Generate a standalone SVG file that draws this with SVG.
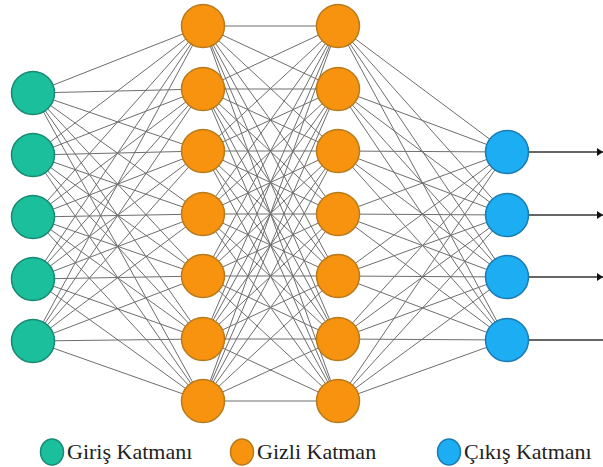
<svg xmlns="http://www.w3.org/2000/svg" width="603" height="467" viewBox="0 0 603 467">
<defs>
<marker id="ah" markerWidth="6" markerHeight="8" refX="6" refY="4" orient="auto" markerUnits="userSpaceOnUse">
<path d="M0,0L6,4L0,8Z" fill="#111"/>
</marker>
</defs>
<rect width="603" height="467" fill="#fff"/>
<g id="connectors" fill="none">
<g stroke="#6e6e6e" stroke-width="1">
<path d="M33,93L203,26M33,93L203,89M33,93L203,151M33,93L203,214M33,93L203,276M33,93L203,339M33,93L203,401"/>
<path d="M33,155L203,26M33,155L203,89M33,155L203,151M33,155L203,214M33,155L203,276M33,155L203,339M33,155L203,401"/>
<path d="M33,217L203,26M33,217L203,89M33,217L203,151M33,217L203,214M33,217L203,276M33,217L203,339M33,217L203,401"/>
<path d="M33,279L203,26M33,279L203,89M33,279L203,151M33,279L203,214M33,279L203,276M33,279L203,339M33,279L203,401"/>
<path d="M33,341L203,26M33,341L203,89M33,341L203,151M33,341L203,214M33,341L203,276M33,341L203,339M33,341L203,401"/>
<path d="M203,26L338,26M203,26L338,89M203,26L338,151M203,26L338,214M203,26L338,276M203,26L338,339M203,26L338,401"/>
<path d="M203,89L338,26M203,89L338,89M203,89L338,151M203,89L338,214M203,89L338,276M203,89L338,339M203,89L338,401"/>
<path d="M203,151L338,26M203,151L338,89M203,151L338,151M203,151L338,214M203,151L338,276M203,151L338,339M203,151L338,401"/>
<path d="M203,214L338,26M203,214L338,89M203,214L338,151M203,214L338,214M203,214L338,276M203,214L338,339M203,214L338,401"/>
<path d="M203,276L338,26M203,276L338,89M203,276L338,151M203,276L338,214M203,276L338,276M203,276L338,339M203,276L338,401"/>
<path d="M203,339L338,26M203,339L338,89M203,339L338,151M203,339L338,214M203,339L338,276M203,339L338,339M203,339L338,401"/>
<path d="M203,401L338,26M203,401L338,89M203,401L338,151M203,401L338,214M203,401L338,276M203,401L338,339M203,401L338,401"/>
<path d="M338,26L507,152M338,26L507,215M338,26L507,277M338,26L507,340"/>
<path d="M338,89L507,152M338,89L507,215M338,89L507,277M338,89L507,340"/>
<path d="M338,151L507,152M338,151L507,215M338,151L507,277M338,151L507,340"/>
<path d="M338,214L507,152M338,214L507,215M338,214L507,277M338,214L507,340"/>
<path d="M338,276L507,152M338,276L507,215M338,276L507,277M338,276L507,340"/>
<path d="M338,339L507,152M338,339L507,215M338,339L507,277M338,339L507,340"/>
<path d="M338,401L507,152M338,401L507,215M338,401L507,277M338,401L507,340"/>
</g>
<g stroke="#333" stroke-width="1.3">
<line x1="528" y1="152" x2="603" y2="152" marker-end="url(#ah)"/>
<line x1="528" y1="215" x2="603" y2="215" marker-end="url(#ah)"/>
<line x1="528" y1="277" x2="603" y2="277" marker-end="url(#ah)"/>
<line x1="528" y1="340" x2="603" y2="340"/>
</g>
</g>
<g id="input-layer" fill="#1bbf9c" stroke="#168a72" stroke-width="1.5">
<circle id="i1" cx="33" cy="93" r="21.5"/>
<circle id="i2" cx="33" cy="155" r="21.5"/>
<circle id="i3" cx="33" cy="217" r="21.5"/>
<circle id="i4" cx="33" cy="279" r="21.5"/>
<circle id="i5" cx="33" cy="341" r="21.5"/>
</g>
<g id="hidden-layer-1" fill="#f7930f" stroke="#b97a1c" stroke-width="1.5">
<circle id="h1-1" cx="203" cy="26" r="21.5"/>
<circle id="h1-2" cx="203" cy="89" r="21.5"/>
<circle id="h1-3" cx="203" cy="151" r="21.5"/>
<circle id="h1-4" cx="203" cy="214" r="21.5"/>
<circle id="h1-5" cx="203" cy="276" r="21.5"/>
<circle id="h1-6" cx="203" cy="339" r="21.5"/>
<circle id="h1-7" cx="203" cy="401" r="21.5"/>
</g>
<g id="hidden-layer-2" fill="#f7930f" stroke="#b97a1c" stroke-width="1.5">
<circle id="h2-1" cx="338" cy="26" r="21.5"/>
<circle id="h2-2" cx="338" cy="89" r="21.5"/>
<circle id="h2-3" cx="338" cy="151" r="21.5"/>
<circle id="h2-4" cx="338" cy="214" r="21.5"/>
<circle id="h2-5" cx="338" cy="276" r="21.5"/>
<circle id="h2-6" cx="338" cy="339" r="21.5"/>
<circle id="h2-7" cx="338" cy="401" r="21.5"/>
</g>
<g id="output-layer" fill="#1dadf2" stroke="#1b7bb3" stroke-width="1.5">
<circle id="o1" cx="507" cy="152" r="21.5"/>
<circle id="o2" cx="507" cy="215" r="21.5"/>
<circle id="o3" cx="507" cy="277" r="21.5"/>
<circle id="o4" cx="507" cy="340" r="21.5"/>
</g>
<g id="legend" stroke-width="1.5">
<ellipse cx="52" cy="452" rx="11.5" ry="13" fill="#1bbf9c" stroke="#168a72"/>
<ellipse cx="242" cy="452" rx="11.5" ry="13" fill="#f7930f" stroke="#b97a1c"/>
<ellipse cx="449" cy="452" rx="11.5" ry="13" fill="#1dadf2" stroke="#1b7bb3"/>
</g>
<text x="67" y="459" font-size="22" fill="#222" font-family="Liberation Serif">Giriş Katmanı</text>
<text x="257" y="459" font-size="22" fill="#222" font-family="Liberation Serif">Gizli Katman</text>
<text x="464" y="459" font-size="22" fill="#222" font-family="Liberation Serif">Çıkış Katmanı</text>
</svg>
